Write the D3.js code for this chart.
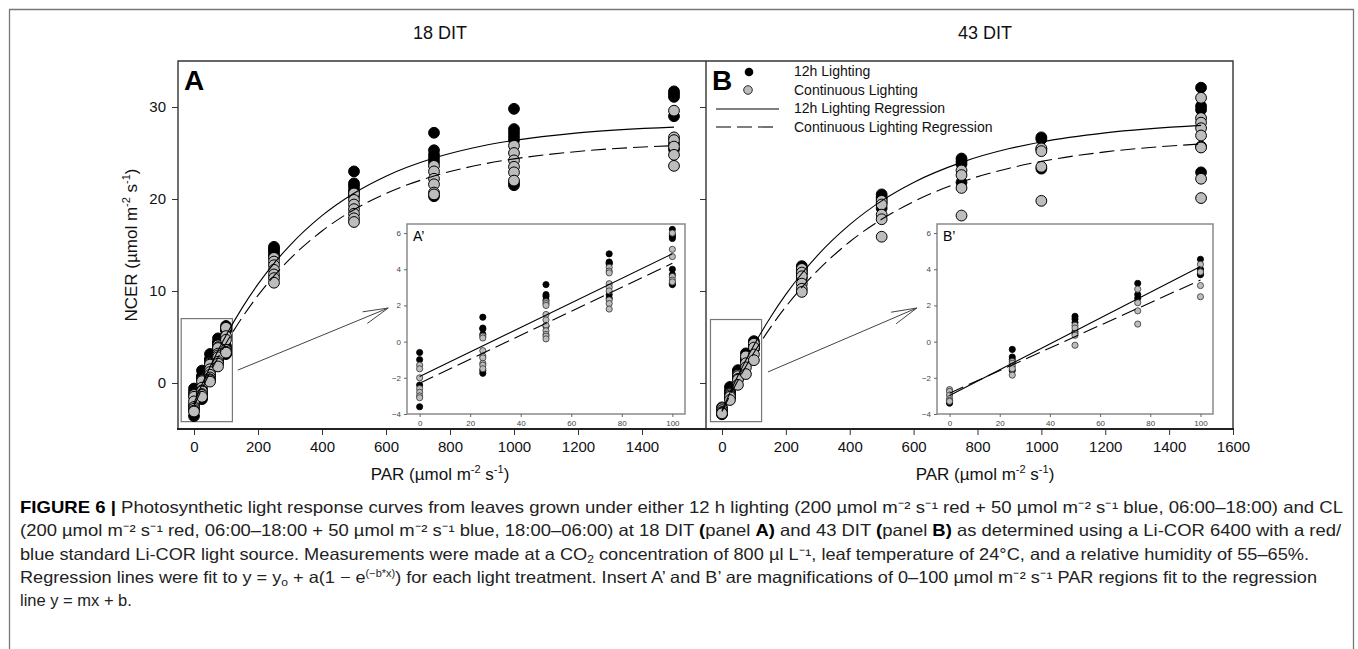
<!DOCTYPE html>
<html><head><meta charset="utf-8">
<script src="https://cdn.jsdelivr.net/npm/d3@7"></script>
<style>
html,body{margin:0;padding:0;background:#fff;}
svg{display:block;font-family:"Liberation Sans",Arial,sans-serif;}
</style></head>
<body>
<svg id="chart" width="1358" height="649"></svg>
<script>
// ---------------- DATA ----------------
const lowPAR = [0, 25, 50, 75, 100];
const highPAR = [250, 500, 750, 1000, 1500];
const xTicksA = [0, 200, 400, 600, 800, 1000, 1200, 1400];
const xTicksB = [0, 200, 400, 600, 800, 1000, 1200, 1400, 1600];
const yTicks = [0, 10, 20, 30];
const insetXTicks = [0, 20, 40, 60, 80, 100];
const insetYTicks = [-4, -2, 0, 2, 4, 6];
const panelTitles = ["18 DIT", "43 DIT"];
const panelLetters = ["A", "B"];
const insetLetters = ["A\u2019", "B\u2019"];
const legendLabels = ["12h Lighting", "Continuous Lighting", "12h Lighting Regression", "Continuous Lighting Regression"];

// Panel A (18 DIT) NCER values per PAR level
const A_12h_low = [[-0.6,-1.0,-2.4,-3.6],[1.35,0.75,0.7,0.4,-1.6,-1.75],[3.15,2.6,2.5,2.3,0.85],[4.85,4.4,4.35,4.3,2.6,2.4],[6.2,5.9,5.8,5.7,4.0,3.7,3.2,3.15]];
const A_CL_low  = [[-1.3,-1.5,-2.0,-2.6,-2.8,-3.0,-3.1],[0.3,0.2,-0.5,-0.8,-0.9,-1.2,-1.3,-1.5],[2.2,2.1,2.0,1.5,1.2,0.9,0.6,0.4,0.3,0.15],[4.1,3.9,3.8,3.2,3.0,2.8,2.3,2.1,1.8],[6.0,5.1,4.7,3.6,3.4,3.3]];
const A_12h_high = [[14.8,14.6,14.4,14.1,13.8],[23.0,21.7,21.4,21.0,20.7,20.3],[27.2,25.3,24.8,24.4,24.0,20.3],[29.8,27.6,27.2,26.8,26.4,21.8,21.5],[31.7,31.4,31.1,29.0,26.0,25.4]];
const A_CL_high  = [[13.6,13.2,12.8,12.3,11.8,11.4,10.9],[20.6,19.9,19.4,18.9,18.4,17.9,17.5],[23.6,23.0,22.2,21.6,20.7,20.5],[25.8,25.0,24.2,23.5,22.9,22.0],[29.6,26.7,26.4,25.7,24.8,23.6]];

// Panel B (43 DIT)
const B_12h_low = [[-3.35,-3.4],[-0.43,-0.85,-1.0,-1.6],[1.4,1.25,1.05,0.55],[3.22,2.6,2.4],[4.55,4.0,3.95,3.75,3.7]];
const B_CL_low  = [[-2.65,-2.75,-2.95,-3.15,-3.25,-3.3],[-1.1,-1.2,-1.35,-1.5,-1.85],[0.9,0.75,0.45,0.35,-0.2],[2.9,2.15,1.7,0.97],[4.27,3.85,3.1,2.48]];
const B_12h_high = [[12.7,12.5,12.2,11.9,11.4],[20.5,20.2,20.0,19.6,19.0],[24.4,24.1,23.8,21.8],[26.7,26.5,25.4,23.3],[32.1,30.1,29.7,25.7,22.9]];
const B_CL_high  = [[12.4,12.0,11.6,10.8,10.25,9.9],[19.8,19.4,18.3,17.8,15.9],[23.1,22.6,21.2,18.2],[25.5,25.2,23.5,19.8],[31.0,28.8,28.3,27.7,26.9,25.6,22.2,20.1]];

// Regression curves
const curvePAR = [0,25,50,75,100,150,200,250,300,400,500,600,750,900,1000,1200,1500];
const A_12h_fit = [-2.2,-0.17,1.73,3.5,5.16,8.14,10.74,13.0,14.97,18.19,20.63,22.48,24.45,25.76,26.37,27.19,27.81];
const A_CL_fit  = [-2.5,-0.62,1.14,2.78,4.31,7.09,9.52,11.64,13.49,16.52,18.84,20.6,22.5,23.77,24.36,25.17,25.8];
const B_12h_fit = [-3.0,-1.05,0.78,2.5,4.11,7.04,9.63,11.9,13.91,17.22,19.8,21.8,23.98,25.48,26.2,27.19,28.0];
const B_CL_fit  = [-3.1,-1.36,0.28,1.82,3.28,5.94,8.3,10.39,12.24,15.35,17.79,19.72,21.86,23.35,24.09,25.12,25.98];

// Inset linear fits (endpoints at PAR 0 and 100)
const linePAR = [0, 100];
const A_12h_lin = [-1.93, 4.85];
const A_CL_lin  = [-2.3, 4.33];
const B_12h_lin = [-2.98, 4.15];
const B_CL_lin  = [-2.85, 3.4];

// Zoom box (PAR, NCER extents) and arrow (PAR, NCER) per panel
const zoomBoxPAR = [[-40,120],[-36,124]];
const zoomBoxNCER = [[-4.2,7.0],[-4.2,6.9]];
const arrowFrom = [[137,1.4],[144,1.2]];
const arrowTo = [[607,8.15],[610,8.15]];

// ---------------- LAYOUT ----------------
const svg = d3.select("#chart");
const FONT = '"Liberation Sans",Arial,sans-serif';
const GRAY = "#bdbdbd";
const DASH = "15,6";
const yTop = 61, yBot = 429;
const panels = [
  {x0:178, x1:706, inset:{x0:407, x1:685, y0:224, y1:414}, lows:[A_12h_low, A_CL_low], highs:[A_12h_high, A_CL_high], fits:[A_12h_fit, A_CL_fit], lins:[A_12h_lin, A_CL_lin], ticks:xTicksA, cx:440},
  {x0:706, x1:1233, inset:{x0:937, x1:1213, y0:224, y1:414}, lows:[B_12h_low, B_CL_low], highs:[B_12h_high, B_CL_high], fits:[B_12h_fit, B_CL_fit], lins:[B_12h_lin, B_CL_lin], ticks:xTicksB, cx:985}
];

svg.append("rect").attr("width",1358).attr("height",649).attr("fill","#fff");
// outer figure frame
svg.append("path").attr("d","M9.5,660V9.5H1353.5V660").attr("fill","none").attr("stroke","#777").attr("stroke-width",1.3);

const y = d3.scaleLinear().domain([-5,35]).range([yBot,yTop]);
const fmt = d3.format("d");

function flatten(levels, vals){
  const out=[];
  levels.forEach((lv,i)=>vals[i].forEach(v=>out.push([lv,v])));
  return out;
}

panels.forEach((p,pi)=>{
  const x = d3.scaleLinear().domain([-50,1600]).range([p.x0,p.x1]);
  const g = svg.append("g");

  // title
  svg.append("text").attr("x",p.cx).attr("y",39).attr("text-anchor","middle")
    .attr("font-size",18).attr("fill","#111").text(panelTitles[pi]);
  // x-axis label
  const xl = svg.append("text").attr("x",p.cx).attr("y",480).attr("text-anchor","middle")
    .attr("font-size",17).attr("fill","#111");
  xl.append("tspan").text("PAR (\u00b5mol m");
  xl.append("tspan").attr("font-size",11).attr("dy",-7).text("-2");
  xl.append("tspan").attr("dy",7).text(" s");
  xl.append("tspan").attr("font-size",11).attr("dy",-7).text("-1");
  xl.append("tspan").attr("dy",7).text(")");

  // axes
  const xa = g.append("g").attr("transform",`translate(0,${yBot})`)
    .call(d3.axisBottom(x).tickValues(p.ticks).tickFormat(fmt).tickSize(6).tickSizeOuter(0).tickPadding(6));
  xa.select(".domain").remove();
  xa.selectAll("text").attr("font-size",15).attr("font-family",FONT).attr("fill","#111");
  xa.selectAll("line").attr("stroke","#333");
  const ya = g.append("g").attr("transform",`translate(${p.x0},0)`)
    .call(d3.axisLeft(y).tickValues(yTicks).tickSize(6).tickSizeOuter(0).tickPadding(6)
      .tickFormat(pi===0? fmt : ""));
  ya.select(".domain").remove();
  ya.selectAll("text").attr("font-size",15).attr("font-family",FONT).attr("fill","#111");
  ya.selectAll("line").attr("stroke","#333");

  // zoom box
  const zb = zoomBoxPAR[pi], zn = zoomBoxNCER[pi];
  g.append("rect").attr("x",x(zb[0])).attr("y",y(zn[1]))
    .attr("width",x(zb[1])-x(zb[0])).attr("height",y(zn[0])-y(zn[1]))
    .attr("fill","none").attr("stroke","#777").attr("stroke-width",1.2);

  // arrow
  const ax0=x(arrowFrom[pi][0]), ay0=y(arrowFrom[pi][1]), ax1=x(arrowTo[pi][0]), ay1=y(arrowTo[pi][1]);
  const ang = Math.atan2(ay0-ay1, ax0-ax1);
  const L=26, da=14*Math.PI/180;
  g.append("path").attr("d",`M${ax0},${ay0}L${ax1},${ay1}M${ax1+L*Math.cos(ang+da)},${ay1+L*Math.sin(ang+da)}L${ax1},${ay1}L${ax1+L*Math.cos(ang-da)},${ay1+L*Math.sin(ang-da)}`)
    .attr("fill","none").attr("stroke","#444").attr("stroke-width",1);

  // main points
  const allBlack = flatten(lowPAR,p.lows[0]).concat(flatten(highPAR,p.highs[0]));
  const allGray = flatten(lowPAR,p.lows[1]).concat(flatten(highPAR,p.highs[1]));
  g.append("g").selectAll("circle").data(allBlack).join("circle")
    .attr("cx",d=>x(d[0])).attr("cy",d=>y(d[1])).attr("r",5.4)
    .attr("fill","#000").attr("stroke","#000").attr("stroke-width",1);
  g.append("g").selectAll("circle").data(allGray).join("circle")
    .attr("cx",d=>x(d[0])).attr("cy",d=>y(d[1])).attr("r",5.4)
    .attr("fill",GRAY).attr("stroke","#000").attr("stroke-width",1);

  // regression curves
  const line = d3.line().x(d=>x(d[0])).y(d=>y(d[1])).curve(d3.curveMonotoneX);
  g.append("path").attr("d",line(curvePAR.map((c,i)=>[c,p.fits[0][i]])))
    .attr("fill","none").attr("stroke","#000").attr("stroke-width",1.1);
  g.append("path").attr("d",line(curvePAR.map((c,i)=>[c,p.fits[1][i]])))
    .attr("fill","none").attr("stroke","#000").attr("stroke-width",1.1).attr("stroke-dasharray",DASH);

  // panel letter
  svg.append("text").attr("x",p.x0+6).attr("y",90).attr("font-size",28).attr("font-weight","bold")
    .attr("fill","#000").text(panelLetters[pi]);

  // inset
  const I = p.inset;
  const xi = d3.scaleLinear().domain([-5,105]).range([I.x0,I.x1]);
  const yi = d3.scaleLinear().domain([-4,6.5]).range([I.y1,I.y0]);
  const ig = svg.append("g");
  ig.append("rect").attr("x",I.x0).attr("y",I.y0).attr("width",I.x1-I.x0).attr("height",I.y1-I.y0)
    .attr("fill","#fff").attr("stroke","#8a8a8a").attr("stroke-width",1.5);
  const ixa = ig.append("g").attr("transform",`translate(0,${I.y1})`)
    .call(d3.axisBottom(xi).tickValues(insetXTicks).tickFormat(fmt).tickSize(3).tickSizeOuter(0).tickPadding(3));
  ixa.select(".domain").remove();
  ixa.selectAll("text").attr("font-size",8).attr("font-family",FONT).attr("fill","#444");
  ixa.selectAll("line").attr("stroke","#666");
  const iya = ig.append("g").attr("transform",`translate(${I.x0},0)`)
    .call(d3.axisLeft(yi).tickValues(insetYTicks).tickFormat(fmt).tickSize(3).tickSizeOuter(0).tickPadding(3));
  iya.select(".domain").remove();
  iya.selectAll("text").attr("font-size",8).attr("font-family",FONT).attr("fill","#444");
  iya.selectAll("line").attr("stroke","#666");

  ig.append("g").selectAll("circle").data(flatten(lowPAR,p.lows[0])).join("circle")
    .attr("cx",d=>xi(d[0])).attr("cy",d=>yi(d[1])).attr("r",3.1)
    .attr("fill","#000").attr("stroke","#000").attr("stroke-width",0.8);
  ig.append("g").selectAll("circle").data(flatten(lowPAR,p.lows[1])).join("circle")
    .attr("cx",d=>xi(d[0])).attr("cy",d=>yi(d[1])).attr("r",3.1)
    .attr("fill",GRAY).attr("stroke","#333").attr("stroke-width",0.8);
  const iline = d3.line().x(d=>xi(d[0])).y(d=>yi(d[1]));
  ig.append("path").attr("d",iline(linePAR.map((c,i)=>[c,p.lins[0][i]])))
    .attr("fill","none").attr("stroke","#000").attr("stroke-width",1.1);
  ig.append("path").attr("d",iline(linePAR.map((c,i)=>[c,p.lins[1][i]])))
    .attr("fill","none").attr("stroke","#000").attr("stroke-width",1.1).attr("stroke-dasharray",DASH);
  ig.append("text").attr("x",I.x0+6).attr("y",I.y0+17).attr("font-size",14).attr("fill","#000").text(insetLetters[pi]);
});

// panel frames
svg.append("path").attr("d",`M178,${yBot}V${yTop}H1233V${yBot}M706,${yTop}V${yBot}`)
  .attr("fill","none").attr("stroke","#333").attr("stroke-width",1.4);
svg.append("path").attr("d",`M177,${yBot}H1234`).attr("stroke","#222").attr("stroke-width",2);

// y-axis label
const yl = svg.append("text").attr("transform","translate(137,245) rotate(-90)").attr("text-anchor","middle")
  .attr("font-size",17).attr("fill","#111");
yl.append("tspan").text("NCER (\u00b5mol m");
yl.append("tspan").attr("font-size",11).attr("dy",-7).text("-2");
yl.append("tspan").attr("dy",7).text(" s");
yl.append("tspan").attr("font-size",11).attr("dy",-7).text("-1");
yl.append("tspan").attr("dy",7).text(")");

// legend (panel B)
const lg = svg.append("g");
lg.append("circle").attr("cx",749).attr("cy",72).attr("r",4.3).attr("fill","#000");
lg.append("circle").attr("cx",748).attr("cy",90).attr("r",4.3).attr("fill",GRAY).attr("stroke","#000").attr("stroke-width",0.8);
lg.append("line").attr("x1",716).attr("x2",779).attr("y1",109).attr("y2",109).attr("stroke","#000").attr("stroke-width",1.1);
lg.append("line").attr("x1",716).attr("x2",776).attr("y1",127).attr("y2",127).attr("stroke","#000").attr("stroke-width",1.1).attr("stroke-dasharray",DASH);
legendLabels.forEach((t,i)=>{
  lg.append("text").attr("x",794).attr("y",[76,95,113,132][i]).attr("font-size",14).attr("fill","#111").text(t);
});

// caption
const CF = '"Liberation Sans Narrow","Liberation Sans",Arial,sans-serif';
const cap = svg.append("g").attr("font-family",CF).attr("font-size",16.5).attr("fill","#222");
function capLine(yy, parts, len){
  const t = cap.append("text").attr("x",20).attr("y",yy);
  if(len) t.attr("textLength",len).attr("lengthAdjust","spacingAndGlyphs");
  parts.forEach(pt=>{
    const s = t.append("tspan").text(pt.t);
    if(pt.b) s.attr("font-weight","bold").attr("fill","#000");
    if(pt.dy) s.attr("dy",pt.dy);
    if(pt.fs) s.attr("font-size",pt.fs);
  });
}
capLine(513,[{t:"FIGURE 6 |",b:1},{t:" Photosynthetic light response curves from leaves grown under either 12 h lighting (200 \u00b5mol m\u207b\u00b2 s\u207b\u00b9 red + 50 \u00b5mol m\u207b\u00b2 s\u207b\u00b9 blue, 06:00\u201318:00) and CL"}],1323);
capLine(536,[{t:"(200 \u00b5mol m\u207b\u00b2 s\u207b\u00b9 red, 06:00\u201318:00 + 50 \u00b5mol m\u207b\u00b2 s\u207b\u00b9 blue, 18:00\u201306:00) at 18 DIT "},{t:"(",b:1},{t:"panel "},{t:"A)",b:1},{t:" and 43 DIT "},{t:"(",b:1},{t:"panel "},{t:"B)",b:1},{t:" as determined using a Li-COR 6400 with a red/"}],1321);
capLine(560,[{t:"blue standard Li-COR light source. Measurements were made at a CO"},{t:"2",dy:3,fs:11},{t:" concentration of 800 \u00b5l L\u207b\u00b9, leaf temperature of 24\u00b0C, and a relative humidity of 55\u201365%.",dy:-3}],1289);
capLine(583,[{t:"Regression lines were fit to y = y"},{t:"o",dy:3,fs:11},{t:" + a(1 \u2212 e",dy:-3},{t:"(\u2212b*x)",dy:-6,fs:10},{t:") for each light treatment. Insert A\u2019 and B\u2019 are magnifications of 0\u2013100 \u00b5mol m\u207b\u00b2 s\u207b\u00b9 PAR regions fit to the regression",dy:6}],1297);
capLine(606,[{t:"line y = mx + b."}],0);
</script>
</body></html>
